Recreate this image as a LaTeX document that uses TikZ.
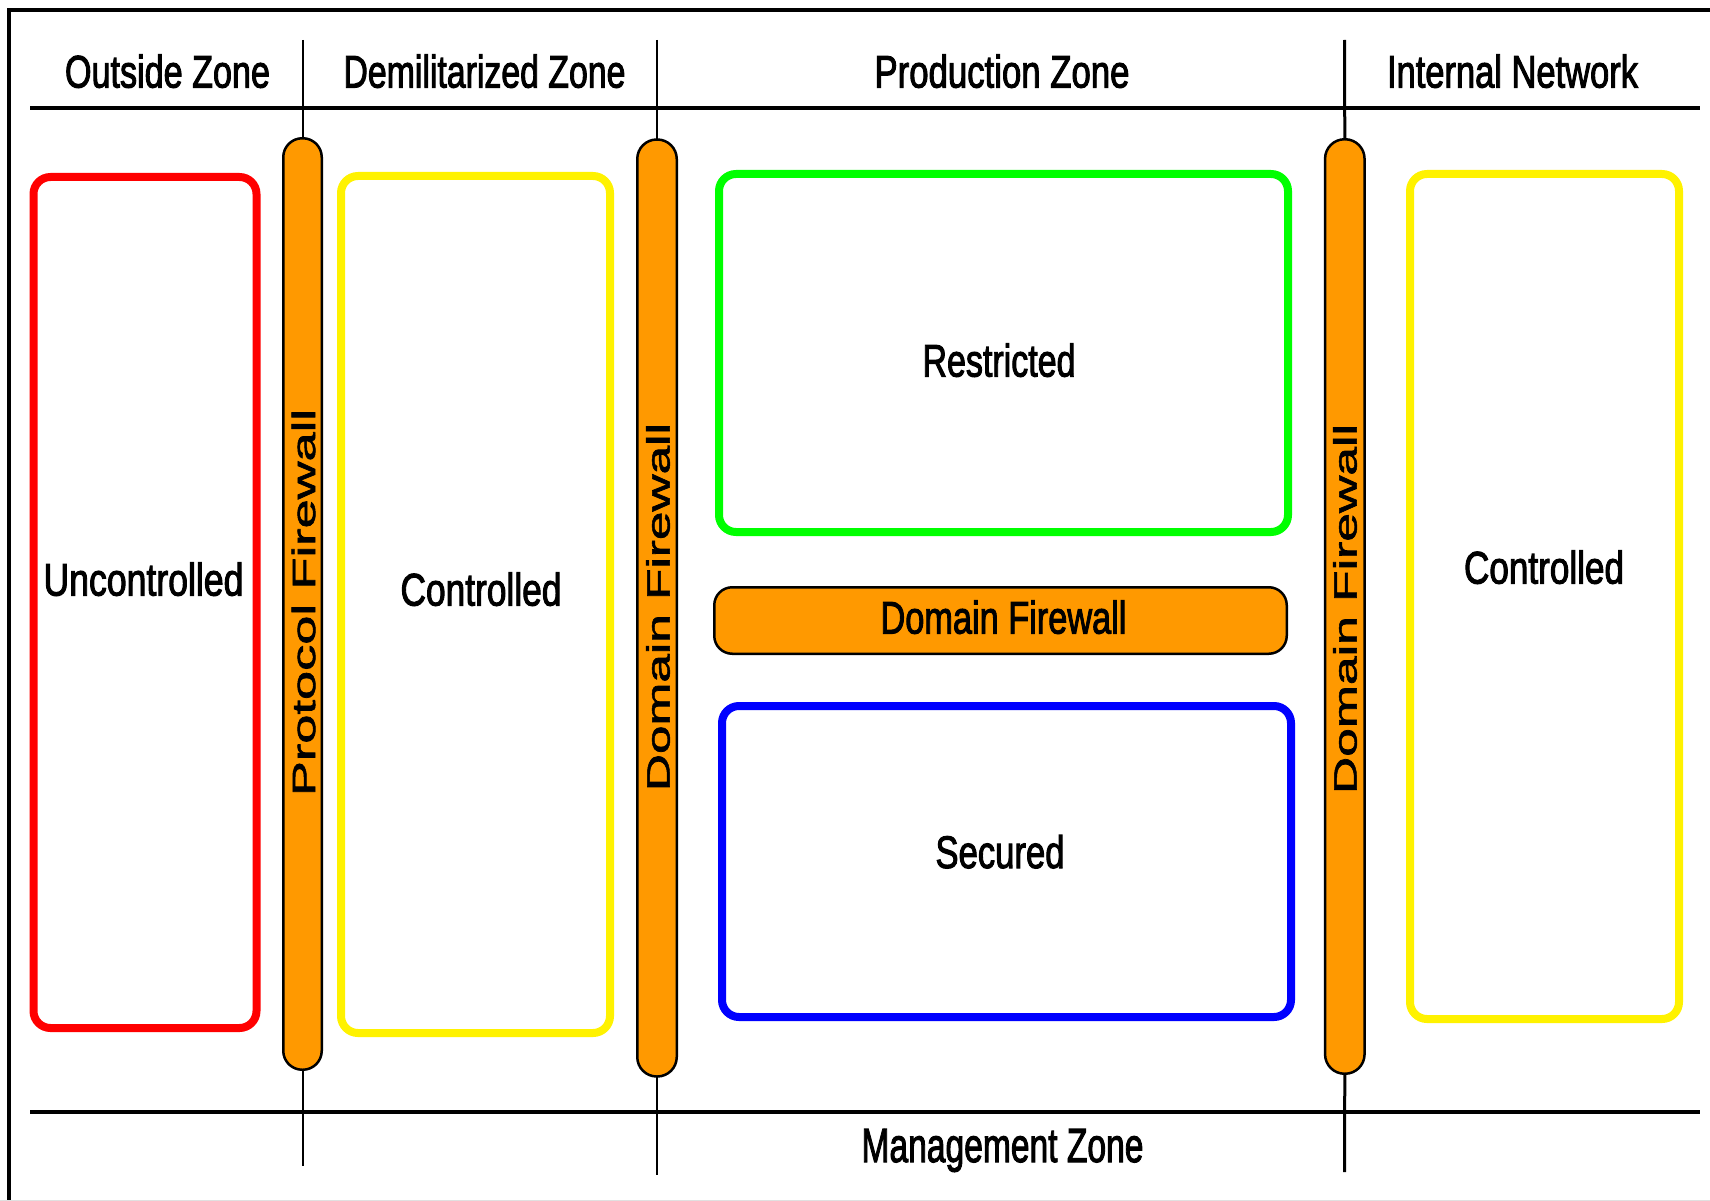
\documentclass[tikz,border=0pt]{standalone}
\usepackage{fontspec}
\setmainfont{Liberation Sans}
\newfontfamily\heavyfont[FakeBold=2.5]{Liberation Sans}
\newfontfamily\midfont[FakeBold=1.5]{Liberation Sans}
\usepackage{graphicx}
% scale a label to a given width and height (in pt)
\newcommand{\fitlbl}[3]{\resizebox{#1pt}{#2pt}{#3}}
\definecolor{fworange}{RGB}{255,153,0}
\begin{document}
\begin{tikzpicture}[x=1pt,y=-1pt,
  zonebox/.style={line width=8pt, rounded corners=17pt, inner sep=0pt, outer sep=0pt},
  wall/.style={draw=black, fill=fworange, line width=2.5pt, inner sep=0pt, outer sep=0pt},
  hlbl/.style={anchor=base, inner sep=0pt, font=\heavyfont},
  vlbl/.style={rotate=90, inner sep=0pt, font=\midfont},
  rulebar/.style={line width=4.5pt},
  divider/.style={line width=2pt},
  frameline/.style={line width=3.5pt}]
\useasboundingbox (0,0) rectangle (1710,1201);

% outer frame (top and left edges)
\coordinate (fr0) at (9,10);
\coordinate (fr1) at (1710,10);
\coordinate (fr2) at (9,1201);
\draw[frameline] (fr2) -- (fr0) -- (fr1);
\coordinate (fb0) at (0,1200.3);
\coordinate (fb1) at (1710,1200.3);
\draw[black!12, line width=1.2pt] (fb0) -- (fb1);

% firewalls
\node[wall, rounded corners=19pt, minimum width=38.5, minimum height=931.5] (pfw) at (302.5,604) {};
\node[wall, rounded corners=19.5pt, minimum width=39.5, minimum height=937] (dfw1) at (657,608) {};
\node[wall, rounded corners=19.5pt, minimum width=39.5, minimum height=934.5] (dfw2) at (1344.8,606.5) {};

% zone dividers
\coordinate (d1t) at (302.5,40);  \coordinate (d1b) at (302.5,1166);
\coordinate (d2t) at (657,40);    \coordinate (d2b) at (657,1175);
\coordinate (d3t) at (1344.5,40); \coordinate (d3b) at (1344.5,1172);
\draw[divider] (d1t) -- (pfw.north);
\draw[divider] (pfw.south) -- (d1b);
\draw[divider] (d2t) -- (dfw1.north);
\draw[divider] (dfw1.south) -- (d2b);
\draw[divider, line width=3pt] (d3t) -- (dfw2.north);
\draw[divider, line width=3pt] (dfw2.south) -- (d3b);

% header and footer rules
\coordinate (hl) at (30,108);   \coordinate (hr) at (1700,108);
\coordinate (fl) at (30,1112);  \coordinate (fr) at (1700,1112);
\draw[rulebar] (hl) -- (hr);
\draw[rulebar] (fl) -- (fr);

% zones
\node[zonebox, draw=red, minimum width=223, minimum height=851] (unc) at (145,602.5) {};
\node[zonebox, draw=yellow, minimum width=269, minimum height=857] (dmz) at (475.5,604.5) {};
\node[zonebox, draw=green, minimum width=569, minimum height=358] (res) at (1003.5,353) {};
\node[zonebox, draw=blue, minimum width=569, minimum height=311] (sec) at (1006.5,861.5) {};
\node[zonebox, draw=yellow, minimum width=269, minimum height=845] (int) at (1544.5,596.5) {};

% horizontal firewall between restricted and secured
\node[wall, rounded corners=18pt, minimum width=572.5, minimum height=66.5] (hfw) at (1000.5,620.5) {};

% zone headings
\node[hlbl] (tOut) at (167.5,87.5) {\fitlbl{205}{33}{Outside Zone}};
\node[hlbl] (tDmz) at (484.5,87.5) {\fitlbl{282}{33}{Demilitarized Zone}};
\node[hlbl] (tPrd) at (1002,87.5) {\fitlbl{255}{33}{Production Zone}};
\node[hlbl] (tInt) at (1512.5,87.5) {\fitlbl{251}{33}{Internal Network}};
\node[hlbl] (tMgt) at (1002.5,1162) {\fitlbl{282}{33}{Management Zone}};

% zone labels
\node[hlbl] (lUnc) at (143.5,595.5) {\fitlbl{200}{33}{Uncontrolled}};
\node[hlbl] (lDmz) at (481,605.5) {\fitlbl{161}{33}{Controlled}};
\node[hlbl] (lRes) at (999,376.5) {\fitlbl{153}{33}{Restricted}};
\node[hlbl] (lSec) at (1000,868) {\fitlbl{129}{33}{Secured}};
\node[hlbl] (lInt) at (1544,583.5) {\fitlbl{160}{33}{Controlled}};
\node[hlbl] (lHfw) at (1003.5,633.5) {\fitlbl{246}{33}{Domain Firewall}};

% firewall labels
\node[vlbl] (lPfw) at (303.5,602.5) {\fitlbl{387}{23.5}{Protocol Firewall}};
\node[vlbl] (lDfw1) at (658,607) {\fitlbl{368}{23.5}{Domain Firewall}};
\node[vlbl] (lDfw2) at (1345,609) {\fitlbl{370}{23.5}{Domain Firewall}};
\end{tikzpicture}
\end{document}
